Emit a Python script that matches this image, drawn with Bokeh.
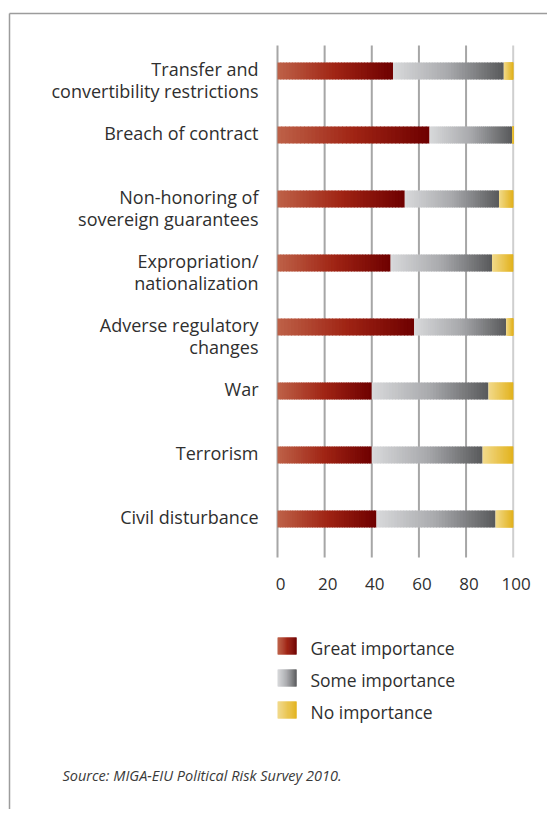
from bokeh.plotting import figure
from bokeh.models import Range1d
from bokeh.core.properties import value
from bokeh.embed import file_html
from bokeh.resources import INLINE

# ---------------- data ----------------
categories = [
    "Transfer and\nconvertibility restrictions",
    "Breach of contract",
    "Non-honoring of\nsovereign guarantees",
    "Expropriation/\nnationalization",
    "Adverse regulatory\nchanges",
    "War",
    "Terrorism",
    "Civil disturbance",
]
great = [49, 64.5, 54, 48, 58, 40, 40, 42]
some = [47, 35, 40, 43, 39, 49.5, 47, 50.5]
none_ = [4, 0.5, 6, 9, 3, 10.5, 13, 7.5]
ticks = [0, 20, 40, 60, 80, 100]
series_names = ["Great importance", "Some importance", "No importance"]
source_text = "Source: MIGA-EIU Political Risk Survey 2010."

# ---------------- layout ----------------
W, H = 547, 809
X0 = 277.0          # canvas px of value 0
PPU = 2.357         # px per value unit
Y0 = 70.5           # canvas px of first row centre
ROW = 64.0          # px per row


def px_x(px):
    return (px - X0) / PPU


def px_y(px):
    return (px - Y0) / ROW


FONT = "Open Sans"
TEXT_COL = "#2f2f2f"

grads = {
    "great": [(0.0, (190, 98, 72)), (0.5, (160, 36, 20)), (1.0, (110, 0, 0))],
    "some": [(0.0, (216, 217, 219)), (0.5, (168, 169, 172)), (1.0, (88, 89, 91))],
    "none": [(0.0, (242, 218, 140)), (1.0, (226, 178, 28))],
}


def interp(stops, t):
    for (t0, c0), (t1, c1) in zip(stops[:-1], stops[1:]):
        if t <= t1:
            f = (t - t0) / (t1 - t0) if t1 > t0 else 0
            c = [round(a + (b - a) * f) for a, b in zip(c0, c1)]
            return "#%02x%02x%02x" % tuple(c)
    return "#%02x%02x%02x" % stops[-1][1]


p = figure(width=W, height=H, output_backend="svg", toolbar_location=None,
           x_range=Range1d(px_x(0), px_x(W)),
           y_range=Range1d(px_y(H), px_y(0)),
           x_axis_location=None, y_axis_location=None,
           min_border=0, outline_line_color=None)
p.grid.visible = False
p.background_fill_color = "white"
p.border_fill_color = "white"

# frame lines
p.segment(x0=[px_x(9), px_x(9)], y0=[px_y(13), px_y(13)],
          x1=[px_x(W), px_x(9)], y1=[px_y(13), px_y(H)],
          line_color="#9c9c9c", line_width=1.5)

# gridlines
n_rows = len(categories)
gl_top = px_y(45)
gl_bot = px_y(557)
p.segment(x0=ticks[:-1], x1=ticks[:-1], y0=[gl_top] * (len(ticks) - 1), y1=[gl_bot] * (len(ticks) - 1),
          line_color="#a6a6a6", line_width=2)
p.segment(x0=ticks[-1:], x1=ticks[-1:], y0=[gl_top], y1=[gl_bot],
          line_color="#cfcfcf", line_width=2)

# bars with gradient slices
N = 40
BAR_H = 17.0 / ROW
lefts, rights, ys, cols = [], [], [], []
for i in range(n_rows):
    start = 0.0
    for key, w in (("great", great[i]), ("some", some[i]), ("none", none_[i])):
        for k in range(N):
            l = start + w * k / N
            r = min(start + w * (k + 1) / N + 0.35, start + w)
            lefts.append(l)
            rights.append(r)
            ys.append(i)
            cols.append(interp(grads[key], (k + 0.5) / N))
        start += w
p.hbar(y=ys, left=lefts, right=rights, height=BAR_H, fill_color=cols, line_color=None)

# category labels (first line centred on the bar)
lab_x = px_x(258)
l1_x, l1_y, l1_t = [], [], []
for i, c in enumerate(categories):
    parts = c.split("\n")
    for j, t in enumerate(parts):
        l1_x.append(lab_x)
        l1_y.append(i + (-2.2 + j * 22.5) / ROW)
        l1_t.append(t)
p.text(x=l1_x, y=l1_y, text=l1_t, text_align="right", text_baseline="alphabetic",
       text_font=value(FONT), text_font_size="18px", text_color=TEXT_COL)

# tick labels
p.text(x=ticks, y=[px_y(583)] * len(ticks), text=[str(t) for t in ticks],
       text_align="center", text_baseline="alphabetic", x_offset=3,
       text_font=value(FONT), text_font_size="17px", text_color=TEXT_COL)

# legend
leg_y = [px_y(645.5 + 32 * k) for k in range(3)]
sw_w = px_x(296) - px_x(277)
sl, sr, sy, sc = [], [], [], []
for k, key in enumerate(["great", "some", "none"]):
    for m in range(N):
        sl.append(sw_w * m / N)
        sr.append(min(sw_w * (m + 1) / N + 0.2, sw_w))
        sy.append(leg_y[k])
        sc.append(interp(grads[key], (m + 0.5) / N))
p.hbar(y=sy, left=sl, right=sr, height=17.0 / ROW, fill_color=sc, line_color=None)
p.text(x=[px_x(310)] * 3, y=[px_y(647 + 32 * k) for k in range(3)], text=series_names,
       text_align="left", text_baseline="alphabetic",
       text_font=value(FONT), text_font_size="17.5px", text_color=TEXT_COL)

# source
p.text(x=[px_x(62)], y=[px_y(775)], text=[source_text], text_align="left", text_baseline="alphabetic",
       text_font=value(FONT), text_font_size="14.5px", text_font_style="italic", text_color="#3a3a3a")

open("out.html", "w").write(file_html(p, INLINE))
